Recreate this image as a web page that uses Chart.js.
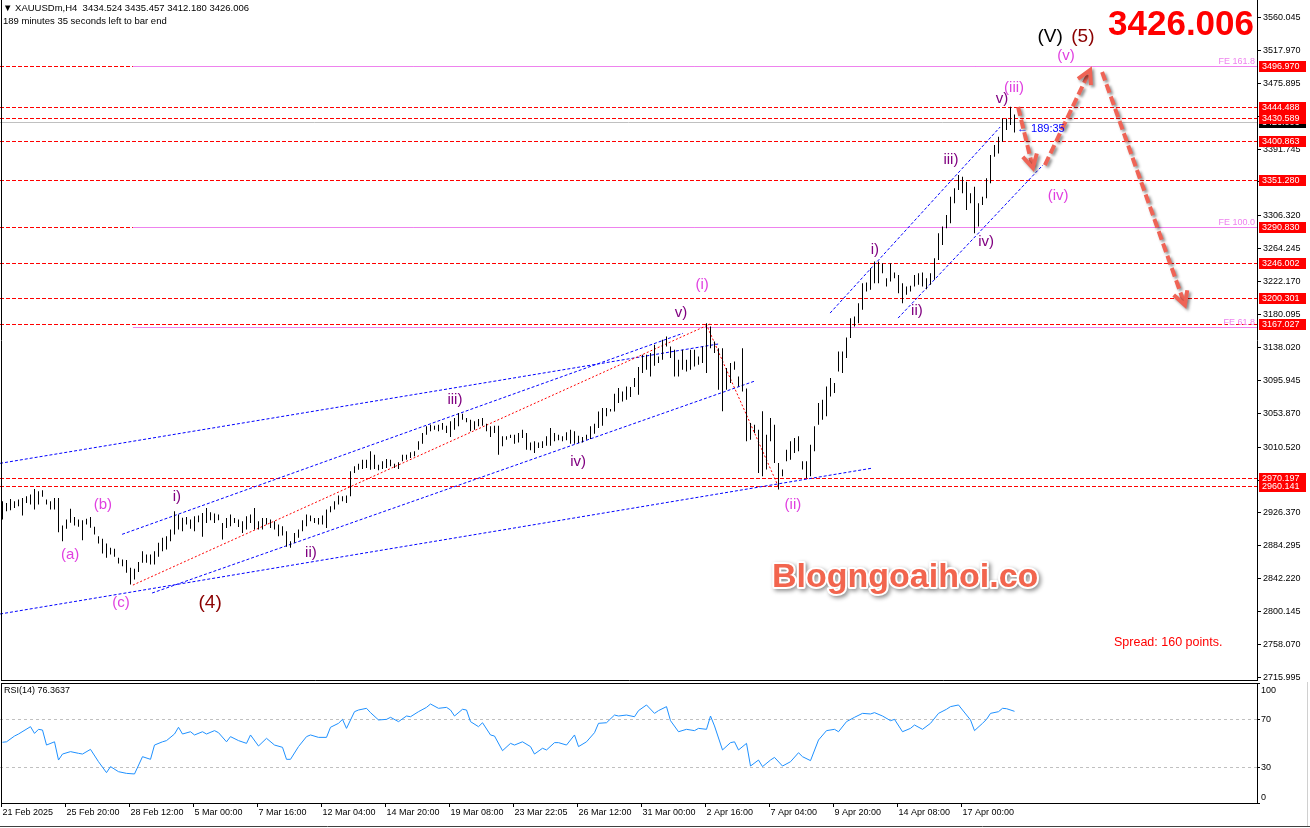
<!DOCTYPE html>
<html>
<head>
<meta charset="utf-8">
<script src="https://cdn.jsdelivr.net/npm/chart.js@4.4.1/dist/chart.umd.min.js"></script>
<style>
  body { margin: 0; background: #fff; width: 1310px; height: 828px; overflow: hidden; position: relative; }
  #main { position: absolute; left: 0; top: 0; }
  #rsi { position: absolute; left: 0; top: 682px; }
</style>
</head>
<body>
<canvas id="main" width="1310" height="681"></canvas>
<canvas id="rsi" width="1310" height="146"></canvas>
<script>
// XAUUSDm H4 bars (high / low per bar)
var highs = [
  2940.7, 2938.6, 2943.7, 2940.7, 2942.9, 2945.0, 2947.1, 2949.3, 2956.5, 2953.5, 2954.8, 2942.9, 2940.7, 2945.0, 2945.0, 2909.7, 2917.3, 2931.0, 2920.7, 2917.3,
  2916.5, 2918.2, 2920.7, 2908.0, 2896.0, 2892.6, 2886.7, 2881.1, 2879.9, 2868.4, 2866.3, 2865.4, 2855.6, 2854.3, 2862.9, 2876.9, 2872.6, 2872.6, 2876.9, 2887.5,
  2893.9, 2896.0, 2904.6, 2928.0, 2923.7, 2919.5, 2920.7, 2917.3, 2921.6, 2922.4, 2925.8,
  2932.2, 2926.6, 2925.0, 2923.7, 2913.0, 2919.4, 2923.7, 2919.4, 2917.3, 2915.2, 2921.5, 2923.7, 2932.2, 2915.2, 2919.4, 2919.4, 2917.3, 2915.2, 2910.9, 2908.8,
  2902.4, 2889.6, 2900.2, 2904.5, 2916.4, 2923.7, 2922.4, 2919.4, 2919.4, 2922.4, 2930.1, 2934.3, 2940.7, 2947.9, 2947.1, 2947.9, 2979.0, 2985.4, 2988.8, 2993.9,
  2993.9, 3004.5, 3000.3, 2987.5, 2991.8, 2994.8, 2993.9, 2988.8, 2990.5, 3000.3, 3000.3, 3003.3, 3004.5,
  3017.3, 3028.0, 3036.5, 3038.6, 3037.3, 3038.6, 3040.7, 3037.3, 3042.9, 3047.1, 3053.5, 3052.7, 3047.1, 3045.0, 3042.9, 3045.8, 3047.1, 3039.9, 3036.5, 3037.3,
  3037.3, 3023.7, 3023.7, 3025.8, 3025.8, 3028.0, 3032.2, 3028.0, 3016.0, 3017.3, 3016.0, 3017.3, 3023.7, 3034.3, 3028.0, 3025.8, 3023.7, 3028.8, 3032.2, 3030.1,
  3024.6, 3022.9, 3025.8, 3036.5, 3039.9, 3055.6, 3059.9, 3059.9, 3058.6, 3078.2, 3085.4, 3081.2, 3087.6,
  3086.7, 3098.2, 3112.3, 3128.0, 3128.0, 3130.2, 3140.8, 3125.9, 3147.2, 3151.4, 3138.7, 3134.4, 3121.6, 3134.4, 3121.6, 3134.4, 3134.4, 3125.9, 3138.7, 3168.5,
  3164.2, 3145.1, 3136.5, 3136.5, 3111.0, 3117.4, 3119.5, 3100.4, 3136.5, 3085.0, 3040.8, 3038.6, 3032.3, 3055.7, 3025.9, 3047.1, 3038.6, 2989.7, 2981.2, 3006.7,
  3017.4, 3021.6, 3023.7, 2991.8, 2991.8, 3013.1, 3036.5, 3066.3, 3070.6, 3087.6, 3098.2, 3091.8, 3132.3, 3132.3, 3150.0,
  3174.9, 3177.0, 3194.1, 3219.6, 3220.5, 3238.7, 3247.3, 3247.3, 3245.1, 3226.0, 3245.1, 3233.2, 3230.2, 3219.6, 3215.3, 3216.2, 3230.2, 3232.4, 3233.2, 3226.0,
  3232.4, 3251.5, 3283.5, 3292.0, 3306.9, 3330.3, 3340.9, 3358.0, 3355.8, 3349.4, 3334.5, 3343.1, 3321.8, 3330.3, 3353.7, 3383.5, 3396.3, 3406.9, 3430.3, 3430.3,
  3445.2, 3435.5
];
var lows = [
  2917.3, 2928.0, 2929.3, 2932.2, 2934.4, 2922.4, 2938.6, 2936.5, 2930.1, 2936.5, 2946.3, 2936.5, 2930.1, 2930.1, 2901.2, 2889.7, 2905.4, 2913.1, 2909.7, 2908.0,
  2890.9, 2911.0, 2906.7, 2898.2, 2886.7, 2873.9, 2868.4, 2872.6, 2869.7, 2861.1, 2857.7, 2849.2, 2834.3, 2840.7, 2850.1, 2862.0, 2862.0, 2859.9, 2859.9, 2869.7,
  2876.9, 2879.0, 2889.7, 2898.2, 2904.6, 2902.4, 2911.0, 2905.4, 2902.4, 2913.9, 2895.2,
  2913.0, 2916.4, 2913.0, 2916.4, 2891.7, 2906.6, 2908.8, 2913.0, 2907.9, 2900.2, 2904.5, 2913.0, 2904.5, 2904.5, 2904.5, 2910.9, 2906.6, 2904.5, 2896.0, 2896.8,
  2882.4, 2881.1, 2887.5, 2893.9, 2902.4, 2908.8, 2915.2, 2913.0, 2910.9, 2910.9, 2906.6, 2926.6, 2930.1, 2936.4, 2940.7, 2938.6, 2947.1, 2976.9, 2981.1, 2982.0,
  2983.3, 2981.1, 2982.0, 2980.3, 2982.0, 2983.3, 2985.4, 2983.3, 2982.0, 2991.8, 2993.9, 2996.0, 2998.2,
  3006.7, 3014.3, 3025.8, 3030.1, 3032.2, 3030.1, 3032.2, 3028.0, 3022.9, 3032.2, 3036.5, 3045.0, 3041.6, 3030.1, 3032.2, 3036.5, 3037.3, 3030.1, 3022.9, 3028.0,
  3000.3, 3010.9, 3019.4, 3021.6, 3014.3, 3016.0, 3021.6, 3006.7, 3005.8, 3002.4, 3008.8, 3008.8, 3011.8, 3011.8, 3017.3, 3018.6, 3017.3, 3018.6, 3014.3, 3014.3,
  3015.2, 3016.0, 3019.4, 3020.3, 3027.1, 3034.3, 3037.3, 3049.3, 3055.6, 3055.6, 3066.3, 3068.4, 3070.5,
  3074.0, 3086.7, 3076.9, 3104.6, 3108.9, 3100.4, 3114.0, 3117.4, 3121.6, 3138.7, 3123.8, 3100.4, 3100.4, 3108.9, 3106.7, 3108.9, 3113.1, 3115.3, 3117.4, 3104.6,
  3136.5, 3130.2, 3083.3, 3055.7, 3083.3, 3091.8, 3108.9, 3087.6, 3081.2, 3017.4, 3019.5, 3028.0, 2976.9, 2972.7, 2981.2, 3017.4, 2989.7, 2955.6, 2972.7, 2991.8,
  2993.9, 3002.5, 3004.6, 2981.2, 2970.5, 2972.7, 3004.6, 3038.6, 3045.0, 3049.3, 3074.8, 3079.1, 3106.7, 3104.6, 3123.8,
  3149.4, 3164.3, 3168.5, 3185.5, 3209.0, 3211.1, 3219.6, 3219.6, 3232.4, 3215.3, 3221.7, 3226.0, 3206.8, 3194.1, 3204.7, 3209.0, 3215.3, 3217.5, 3215.3, 3211.9,
  3217.5, 3223.9, 3249.4, 3268.5, 3289.8, 3296.2, 3321.8, 3338.8, 3334.5, 3313.2, 3321.8, 3283.5, 3292.0, 3319.6, 3328.1, 3347.3, 3381.4, 3385.6, 3400.5, 3415.4,
  3421.8, 3412.2
];

// RSI(14) read at these bar numbers
var rsiBars = [0, 1, 3, 4, 7, 8, 9, 10, 11, 13, 14, 15, 17, 19, 20, 22, 24, 26, 27, 29, 31, 33, 35, 37, 38, 40, 41, 43, 44, 45,
  47, 48, 50, 51, 53, 54, 56, 57, 59, 61, 62, 64, 66, 68, 70, 71, 72, 74, 76, 77, 79, 81, 82, 84, 85, 86, 88, 89, 91, 92,
  94, 96, 97, 99, 101, 102, 104, 106, 107, 109, 111, 112, 113, 115, 116, 117, 119, 120, 122, 123, 125, 127, 128, 130, 132, 133, 135, 136, 138, 139,
  141, 143, 144, 146, 148, 149, 151, 153, 154, 156, 158, 159, 161, 163, 164, 166, 167, 169, 171, 173, 174, 176, 177, 178, 180, 182, 183, 184, 186, 187,
  189, 190, 192, 193, 195, 197, 199, 200, 202, 204, 206, 208, 209, 211, 213, 215, 217, 218, 220, 222, 223, 225, 227, 228, 230, 232, 234, 236, 237, 239,
  240, 242, 243, 245, 246, 247, 249, 250, 251, 253];
var rsiValues = [50.6, 51.0, 55.8, 57.5, 63.6, 58.0, 61.4, 60.8, 48.3, 51.0, 35.8, 40.8, 42.8, 41.4, 40.8, 44.7, 34.4, 25.3, 30.3, 26.1, 24.7, 24.2, 38.6, 36.4, 48.3, 51.0, 52.0, 57.5, 63.1, 57.5,
  59.4, 56.7, 59.4, 57.5, 60.3, 58.6, 51.0, 55.3, 52.0, 49.7, 56.7, 47.5, 53.9, 48.3, 46.4, 36.4, 36.4, 47.0, 55.3, 56.7, 54.7, 54.7, 63.1, 66.4, 69.7, 62.2, 76.1, 77.5, 78.9, 75.3,
  69.2, 69.7, 71.4, 67.8, 72.5, 71.9, 76.1, 79.7, 82.5, 78.9, 79.7, 77.5, 72.5, 78.1, 77.5, 67.8, 63.6, 66.9, 56.7, 55.8, 43.6, 49.7, 48.3, 51.0, 47.0, 40.8, 45.6, 44.2, 50.3, 50.3,
  48.3, 56.7, 47.0, 51.0, 58.6, 66.4, 66.9, 73.3, 72.5, 73.3, 71.9, 77.0, 81.7, 74.7, 77.0, 80.3, 68.6, 59.4, 61.4, 60.3, 62.2, 61.4, 72.5, 64.2, 44.2, 50.3, 51.0, 44.2, 49.7, 30.8,
  35.8, 30.3, 35.8, 38.0, 30.8, 34.4, 41.9, 38.6, 35.3, 52.5, 60.3, 61.4, 59.4, 67.8, 71.4, 74.7, 74.2, 75.3, 72.5, 68.6, 69.7, 59.4, 62.2, 65.0, 61.4, 66.4, 74.7, 78.1, 80.3, 81.7,
  77.5, 69.2, 60.3, 66.4, 69.7, 74.7, 76.1, 78.9, 78.6, 76.4];

// axis ticks
var priceTicks = [3560.045, 3517.970, 3475.895, 3433.820, 3391.745, 3349.670, 3306.320, 3264.245, 3222.170, 3180.095, 3138.020,
  3095.945, 3053.870, 3010.520, 2968.445, 2926.370, 2884.295, 2842.220, 2800.145, 2758.070, 2715.995];
var rsiTicks = [100, 70, 30, 0];
var timeLabels = ['21 Feb 2025', '25 Feb 20:00', '28 Feb 12:00', '5 Mar 00:00', '7 Mar 16:00', '12 Mar 04:00', '14 Mar 20:00', '19 Mar 08:00',
  '23 Mar 22:05', '26 Mar 12:00', '31 Mar 00:00', '2 Apr 16:00', '7 Apr 04:00', '9 Apr 20:00', '14 Apr 08:00', '17 Apr 00:00'];
var timeLabelBars = [0, 16, 32, 48, 64, 80, 96, 112, 128, 144, 160, 176, 192, 208, 224, 240];

// levels and drawings (bar number, price)
var levelPrices = [3496.970, 3444.488, 3430.589, 3400.863, 3351.280, 3290.830, 3246.002, 3200.301, 3167.027, 2970.197, 2960.141];
var lastPrice = 3426.006;
var feLevels = [3496.970, 3290.830, 3163.4];
var feNames = ['FE 161.8', 'FE 100.0', 'FE 61.8'];
var feStartBar = 32.6;
var blueLines = [
  [-0.6, 2989.2, 178.9, 3141.8],
  [-0.6, 2796.5, 217.6, 2983.2],
  [29.9, 2898.4, 170.1, 3155.5],
  [37.4, 2823.3, 188.1, 3094.5],
  [206.9, 3181.4, 249.4, 3419.3],
  [223.9, 3175.0, 260.1, 3370.7]
];
var redLines = [
  [32.6, 2833.5, 176.9, 3167.4],
  [175.9, 3167.4, 193.9, 2960.2]
];
var arrows = [
  [253.9, 3444.9, 257.6, 3366.9],
  [260.6, 3370.7, 271.9, 3492.2],
  [274.9, 3489.7, 295.6, 3191.7]
];
var waveLabels = [
  ['(V)', 261.9, 3534.4, 'major'], ['(5)', 270.1, 3534.4, 'degree'], ['(4)', 51.9, 2810.5, 'degree'],
  ['(v)', 265.9, 3510.1, 'minor'], ['(iii)', 252.9, 3469.2, 'minor'], ['(iv)', 263.9, 3331.1, 'minor'],
  ['(i)', 174.9, 3217.3, 'minor'], ['(ii)', 197.6, 2935.9, 'minor'],
  ['(a)', 16.9, 2871.9, 'minor'], ['(b)', 25.1, 2935.9, 'minor'], ['(c)', 29.6, 2810.5, 'minor'],
  ['v)', 249.9, 3455.1, 'sub'], ['iii)', 237.1, 3377.1, 'sub'], ['iv)', 245.9, 3272.3, 'sub'],
  ['i)', 218.1, 3262.0, 'sub'], ['ii)', 228.6, 3184.0, 'sub'],
  ['v)', 169.6, 3181.4, 'sub'], ['iii)', 113.1, 3070.2, 'sub'], ['iv)', 143.9, 2990.9, 'sub'],
  ['i)', 43.6, 2946.1, 'sub'], ['ii)', 77.1, 2874.5, 'sub']
];
var labelStyles = {
  major: { color: '#000000', font: '19px "Liberation Sans"' },
  degree: { color: '#8b0000', font: '19px "Liberation Sans"' },
  minor: { color: '#e040e0', font: '15px "Liberation Sans"' },
  sub: { color: '#800080', font: '15px "Liberation Sans"' }
};

var xMin = -0.625, xMax = 313.625;
var AXIS_FONT = '9px "Liberation Sans", Arial, sans-serif';

function line(ctx, x1, y1, x2, y2) {
  ctx.beginPath();
  ctx.moveTo(x1, y1);
  ctx.lineTo(x2, y2);
  ctx.stroke();
}

function drawArrow(ctx, x1, y1, x2, y2) {
  var ang = Math.atan2(y2 - y1, x2 - x1);
  var head = 15;
  ctx.setLineDash([9, 4]);
  line(ctx, x1, y1, x2 - 3 * Math.cos(ang), y2 - 3 * Math.sin(ang));
  ctx.setLineDash([]);
  ctx.beginPath();
  ctx.moveTo(x2 - head * Math.cos(ang - 0.5), y2 - head * Math.sin(ang - 0.5));
  ctx.lineTo(x2, y2);
  ctx.lineTo(x2 - head * Math.cos(ang + 0.5), y2 - head * Math.sin(ang + 0.5));
  ctx.stroke();
}

var mainOverlay = {
  id: 'mainOverlay',
  beforeDatasetsDraw: function (chart) {
    var ctx = chart.ctx, a = chart.chartArea, x = chart.scales.x, y = chart.scales.y;
    ctx.save();
    ctx.lineWidth = 1;
    ctx.strokeStyle = '#ff0000';
    ctx.setLineDash([4, 2]);
    levelPrices.forEach(function (p) {
      var yy = Math.round(y.getPixelForValue(p)) + 0.5;
      line(ctx, a.left, yy, a.right, yy);
    });
    ctx.setLineDash([]);
    ctx.strokeStyle = '#ee82ee';
    feLevels.forEach(function (p) {
      var yy = Math.round(y.getPixelForValue(p)) + 0.5;
      line(ctx, x.getPixelForValue(feStartBar), yy, a.right, yy);
    });
    ctx.strokeStyle = '#c0c0c0';
    var ly = Math.round(y.getPixelForValue(lastPrice)) + 0.5;
    line(ctx, a.left, ly, a.right, ly);
    ctx.strokeStyle = '#0000ff';
    ctx.setLineDash([3, 2]);
    blueLines.forEach(function (l) {
      line(ctx, x.getPixelForValue(l[0]), y.getPixelForValue(l[1]), x.getPixelForValue(l[2]), y.getPixelForValue(l[3]));
    });
    ctx.strokeStyle = '#ff0000';
    ctx.setLineDash([2, 2]);
    redLines.forEach(function (l) {
      line(ctx, x.getPixelForValue(l[0]), y.getPixelForValue(l[1]), x.getPixelForValue(l[2]), y.getPixelForValue(l[3]));
    });
    ctx.restore();
  },
  afterDatasetsDraw: function (chart) {
    var ctx = chart.ctx, a = chart.chartArea, x = chart.scales.x, y = chart.scales.y;
    ctx.save();
    // FE captions
    ctx.font = '9px "Liberation Sans"';
    ctx.fillStyle = '#ee82ee';
    ctx.textAlign = 'right';
    ctx.textBaseline = 'bottom';
    feLevels.forEach(function (p, i) {
      ctx.fillText(feNames[i], a.right - 2, Math.round(y.getPixelForValue(p)));
    });
    // wave counts
    ctx.textAlign = 'center';
    ctx.textBaseline = 'middle';
    waveLabels.forEach(function (w) {
      var st = labelStyles[w[3]];
      ctx.font = st.font;
      ctx.fillStyle = st.color;
      ctx.fillText(w[0], x.getPixelForValue(w[1]), y.getPixelForValue(w[2]));
    });
    // arrows
    ctx.save();
    ctx.strokeStyle = '#ef6456';
    ctx.lineWidth = 4;
    ctx.shadowColor = 'rgba(0,0,0,0.45)';
    ctx.shadowBlur = 3;
    ctx.shadowOffsetX = 2;
    ctx.shadowOffsetY = 2;
    arrows.forEach(function (r) {
      drawArrow(ctx, x.getPixelForValue(r[0]), y.getPixelForValue(r[1]), x.getPixelForValue(r[2]), y.getPixelForValue(r[3]));
    });
    ctx.restore();
    // bar timer
    ctx.textAlign = 'left';
    ctx.font = '11px "Liberation Sans"';
    ctx.fillStyle = '#0000ff';
    ctx.fillText('\u2190 189:35', 1017, 129);
    // header
    ctx.fillStyle = '#000';
    ctx.font = '9.5px "Liberation Sans"';
    ctx.fillText('\u25BC XAUUSDm,H4  3434.524 3435.457 3412.180 3426.006', 3, 8);
    ctx.fillText('189 minutes 35 seconds left to bar end', 3, 21);
    // big price
    ctx.textAlign = 'right';
    ctx.textBaseline = 'alphabetic';
    ctx.font = 'bold 35px "Liberation Sans"';
    ctx.fillStyle = '#ff0000';
    ctx.fillText('3426.006', 1254, 35);
    // watermark
    ctx.save();
    ctx.textAlign = 'left';
    ctx.font = 'bold 34px "Liberation Sans"';
    ctx.shadowColor = 'rgba(0,0,0,0.45)';
    ctx.shadowBlur = 4;
    ctx.shadowOffsetX = 2;
    ctx.shadowOffsetY = 2;
    ctx.strokeStyle = '#ffffff';
    ctx.lineWidth = 4;
    ctx.lineJoin = 'round';
    ctx.strokeText('Blogngoaihoi.co', 772, 587);
    ctx.shadowColor = 'transparent';
    ctx.fillStyle = '#f2654e';
    ctx.fillText('Blogngoaihoi.co', 772, 587);
    ctx.restore();
    // spread
    ctx.textAlign = 'left';
    ctx.textBaseline = 'middle';
    ctx.font = '12.5px "Liberation Sans"';
    ctx.fillStyle = '#ff0000';
    ctx.fillText('Spread: 160 points.', 1114, 643);
    ctx.restore();
  },
  afterDraw: function (chart) {
    var ctx = chart.ctx, a = chart.chartArea, y = chart.scales.y;
    ctx.save();
    ctx.strokeStyle = '#000';
    ctx.lineWidth = 1;
    line(ctx, 1.5, 0, 1.5, 681);
    line(ctx, a.right + 0.5, 0, a.right + 0.5, 681);
    line(ctx, 1, 680.5, a.right + 1, 680.5);
    ctx.font = AXIS_FONT;
    ctx.fillStyle = '#000';
    ctx.textAlign = 'left';
    ctx.textBaseline = 'middle';
    priceTicks.forEach(function (v) {
      var yy = Math.round(y.getPixelForValue(v)) + 0.5;
      line(ctx, a.right, yy, a.right + 4, yy);
      ctx.fillText(v.toFixed(3), a.right + 6, yy);
    });
    // last price box then level boxes
    var boxes = [[lastPrice, '#000000']].concat(levelPrices.map(function (p) { return [p, '#ff0000']; }));
    boxes.forEach(function (b) {
      var yy = Math.round(y.getPixelForValue(b[0]));
      ctx.fillStyle = b[1];
      ctx.fillRect(a.right + 2, yy - 5, 47, 11);
      ctx.fillStyle = '#ffffff';
      ctx.fillText(b[0].toFixed(3), a.right + 5, yy + 0.5);
    });
    ctx.restore();
  }
};

var rsiOverlay = {
  id: 'rsiOverlay',
  beforeDatasetsDraw: function (chart) {
    var ctx = chart.ctx, a = chart.chartArea, y = chart.scales.y;
    ctx.save();
    ctx.strokeStyle = '#c0c0c0';
    ctx.setLineDash([3, 3]);
    [70, 30].forEach(function (v) {
      var yy = Math.round(y.getPixelForValue(v)) + 0.5;
      line(ctx, a.left, yy, a.right, yy);
    });
    ctx.restore();
  },
  afterDraw: function (chart) {
    var ctx = chart.ctx, a = chart.chartArea, x = chart.scales.x, y = chart.scales.y;
    ctx.save();
    ctx.strokeStyle = '#000';
    ctx.lineWidth = 1;
    ctx.strokeRect(1.5, a.top + 0.5, a.right - 1, a.bottom - a.top);
    ctx.font = AXIS_FONT;
    ctx.fillStyle = '#000';
    ctx.textAlign = 'left';
    ctx.textBaseline = 'middle';
    ctx.fillText('RSI(14) 76.3637', 4, a.top + 8);
    rsiTicks.forEach(function (v) {
      var yy = Math.round(y.getPixelForValue(v)) + 0.5;
      var ty = v === 100 ? yy + 7 : (v === 0 ? yy - 6 : yy);
      line(ctx, a.right, yy, a.right + 3, yy);
      ctx.fillText(String(v), a.right + 4, ty);
    });
    timeLabels.forEach(function (t, i) {
      var xx = Math.round(x.getPixelForValue(timeLabelBars[i])) - 1.5;
      line(ctx, xx, a.bottom, xx, a.bottom + 4);
      ctx.fillText(t, xx + 1, a.bottom + 10);
    });
    ctx.strokeStyle = '#404040';
    line(ctx, 0, 144.5, 1310, 144.5);
    ctx.strokeStyle = '#d0d0d0';
    line(ctx, 1307.5, 0, 1307.5, 144);
    ctx.restore();
  }
};

var barData = highs.map(function (h, i) { return { x: i, y: [lows[i], h] }; });
var rsiData = rsiBars.map(function (b, i) { return { x: b, y: rsiValues[i] }; });

new Chart(document.getElementById('main'), {
  type: 'bar',
  data: {
    datasets: [{
      data: barData,
      backgroundColor: '#000000',
      borderWidth: 0,
      barThickness: 1,
      inflateAmount: 0
    }]
  },
  options: {
    responsive: false,
    animation: false,
    layout: { padding: { left: 0, right: 53, top: 0, bottom: 0 } },
    plugins: { legend: { display: false }, tooltip: { enabled: false } },
    scales: {
      x: { type: 'linear', min: xMin, max: xMax, offset: false, display: false },
      y: { type: 'linear', min: 2710.8, max: 3581.8, display: false }
    }
  },
  plugins: [mainOverlay]
});

new Chart(document.getElementById('rsi'), {
  type: 'line',
  data: {
    datasets: [{
      data: rsiData,
      borderColor: '#1e90ff',
      borderWidth: 1,
      pointRadius: 0,
      tension: 0
    }]
  },
  options: {
    responsive: false,
    animation: false,
    layout: { padding: { left: 0, right: 53, top: 1, bottom: 25 } },
    plugins: { legend: { display: false }, tooltip: { enabled: false } },
    scales: {
      x: { type: 'linear', min: xMin, max: xMax, display: false },
      y: { min: 0, max: 100, display: false }
    }
  },
  plugins: [rsiOverlay]
});
</script>
</body>
</html>
